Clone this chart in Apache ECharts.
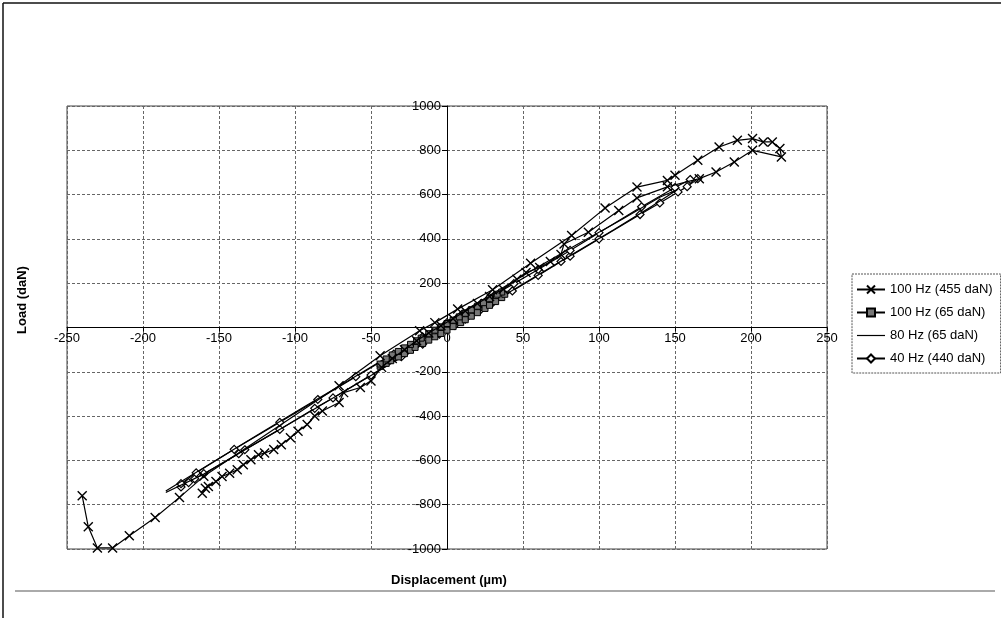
<!DOCTYPE html>
<html><head><meta charset="utf-8">
<script src="https://cdn.jsdelivr.net/npm/echarts@6/dist/echarts.min.js"></script>
<style>html,body{margin:0;padding:0;background:#fff}#c{width:1001px;height:618px}</style>
</head><body><div id="c"></div>
<script>
// ---- data ----
const seriesNames = ['100 Hz (455 daN)', '100 Hz (65 daN)', '80 Hz (65 daN)', '40 Hz (440 daN)'];

const x455 = [-240,-236,-230,-220,-209,-192,-176,-160,-71,-44,-18,-8,7,30,55,82,104,125,145,150,165,179,191,201,208,214,219,220,
  201,189,177,166,145,125,113,93,77,
  75,68,61,52,46,37,28,20,12,4,-4,-12,-20,-28,-36,-43,-50,-57,-68,-71,-82,-87,-92,-98,-103,-109,-114,-120,-124,-129,-134,-138,-143,-148,-152,-157,-159,-161];
const y455 = [-760,-900,-995,-995,-940,-858,-767,-672,-263,-128,-15,22,83,170,290,415,539,634,664,687,755,815,845,853,838,838,808,770,
  800,747,702,672,635,585,528,430,377,
  330,298,271,248,218,173,140,108,75,40,8,-25,-60,-100,-140,-180,-241,-271,-294,-339,-377,-400,-438,-468,-498,-529,-551,-567,-574,-597,-620,-642,-658,-673,-695,-718,-726,-748];

const x100_65 = [-44,-40,-37,-32,-28,-24,-21,-16,-12,-8,-4,0,4,9,12,16,20,25,28,32,36,38,
  36,33,28,24,20,16,12,8,4,0,-4,-8,-12,-17,-20,-24,-28,-32,-36,-40,-44];
const y100_65 = [-175,-162,-150,-133,-118,-103,-90,-72,-57,-42,-27,-12,4,22,35,51,67,86,100,117,135,150,
  160,150,130,112,96,80,64,48,33,18,3,-12,-28,-48,-60,-76,-92,-108,-124,-142,-165];

const x80_65 = [-185,-160,-130,-100,-70,-40,-10,20,50,80,110,135,152,140,115,85,55,25,-5,-35,-65,-95,-125,-155,-185];
const y80_65 = [-745,-662,-540,-420,-298,-176,-52,72,196,320,442,548,624,588,488,372,254,132,8,-116,-240,-362,-486,-612,-738];

const x40_440 = [-175,-170,-166,-160,-137,-133,-110,-87,-75,-50,-30,-16,-5,5,12,22,30,43,60,75,81,100,127,140,152,158,165,
  160,150,128,100,81,60,44,28,10,0,-16,-35,-60,-85,-110,-140,-165,-175];
const y40_440 = [-720,-700,-683,-660,-570,-552,-460,-365,-318,-215,-132,-75,-30,10,38,80,112,165,235,298,322,400,510,562,612,636,672,
  668,632,545,428,348,262,198,135,60,22,-42,-120,-222,-325,-428,-550,-656,-705];

const xMin = -250, xMax = 250, xStep = 50;
const yMin = -1000, yMax = 1000, yStep = 200;
const xTitle = 'Displacement (µm)';
const yTitle = 'Load (daN)';

// ---- build ----
const pairs = (xs, ys) => xs.map((x, i) => [x, ys[i]]);
const FONT = "'Liberation Sans',Arial,sans-serif";
const X_SYMBOL = 'path://M0,0L10,10M10,0L0,10';
const LINE_ICON = 'path://M0,0L0,0M0,4.4L28,4.4L28,5.6L0,5.6ZM28,10L28,10';

const G = {left: 67, top: 106, width: 760, height: 443};
// where the zero lines fall inside the grid (axes cross at the origin)
const yAxisShift = G.width * (0 - xMin) / (xMax - xMin);
const xAxisShift = G.height * (0 - yMin) / (yMax - yMin);

const chart = echarts.init(document.getElementById('c'), null, {renderer: 'canvas'});
const base = {type: 'line', showAllSymbol: true, animation: false,
  lineStyle: {color: '#000', width: 1.2}, emphasis: {disabled: true}};

chart.setOption({
  backgroundColor: '#fff',
  animation: false,
  grid: Object.assign({show: true, borderColor: '#444', borderWidth: 1}, G),
  xAxis: {
    type: 'value', min: xMin, max: xMax, interval: xStep,
    offset: -xAxisShift,
    axisLine: {onZero: false, lineStyle: {color: '#000', width: 1}},
    axisTick: {show: true, length: 4, lineStyle: {color: '#000'}},
    axisLabel: {color: '#000', fontFamily: FONT, fontSize: 13, margin: 4},
    splitLine: {show: true, lineStyle: {color: '#666', width: 1, type: [3, 2]}}
  },
  yAxis: {
    type: 'value', min: yMin, max: yMax, interval: yStep,
    offset: -yAxisShift,
    axisLine: {onZero: false, lineStyle: {color: '#000', width: 1}},
    axisTick: {show: true, length: 5, lineStyle: {color: '#000'}},
    axisLabel: {color: '#000', fontFamily: FONT, fontSize: 13, margin: 6,
      formatter: v => (v === 0 ? '' : String(v))},
    splitLine: {show: true, lineStyle: {color: '#666', width: 1, type: [3, 2]}}
  },
  legend: {
    orient: 'vertical', left: 852, top: 274,
    data: [seriesNames[0], seriesNames[1], {name: seriesNames[2], icon: LINE_ICON}, seriesNames[3]],
    itemWidth: 28, itemHeight: 10, itemGap: 10,
    padding: [9, 8, 8, 4],
    borderColor: '#555', borderWidth: 1, borderType: [2, 1],
    textStyle: {fontFamily: FONT, fontSize: 13, color: '#000'},
    selectedMode: false
  },
  graphic: [
    {type: 'line', shape: {x1: 3, y1: 3, x2: 1001, y2: 3}, style: {stroke: '#111', lineWidth: 1.5}, silent: true},
    {type: 'line', shape: {x1: 3, y1: 3, x2: 3, y2: 618}, style: {stroke: '#111', lineWidth: 1.5}, silent: true},
    {type: 'line', shape: {x1: 15, y1: 591, x2: 995, y2: 591}, style: {stroke: '#aaa', lineWidth: 2}, silent: true},
    {type: 'text', x: 22, y: 300, rotation: Math.PI / 2,
      style: {text: yTitle, font: "bold 13px " + FONT, fill: '#000', textAlign: 'center', textVerticalAlign: 'middle'}},
    {type: 'text', x: 449, y: 580,
      style: {text: xTitle, font: "bold 13px " + FONT, fill: '#000', textAlign: 'center', textVerticalAlign: 'middle'}}
  ],
  series: [
    Object.assign({}, base, {name: seriesNames[3], data: pairs(x40_440, y40_440), z: 2,
      symbol: 'diamond', symbolSize: 8,
      itemStyle: {color: '#fff', borderColor: '#000', borderWidth: 1.2}}),
    Object.assign({}, base, {name: seriesNames[2], data: pairs(x80_65, y80_65), z: 3,
      symbol: 'none', itemStyle: {color: '#000'}}),
    Object.assign({}, base, {name: seriesNames[1], data: pairs(x100_65, y100_65), z: 4,
      symbol: 'rect', symbolSize: 6,
      itemStyle: {color: '#777', borderColor: '#000', borderWidth: 1}}),
    Object.assign({}, base, {name: seriesNames[0], data: pairs(x455, y455), z: 5,
      symbol: X_SYMBOL, symbolSize: 9,
      itemStyle: {color: '#000', borderColor: '#000', borderWidth: 1.4}})
  ]
});
</script>
</body></html>
